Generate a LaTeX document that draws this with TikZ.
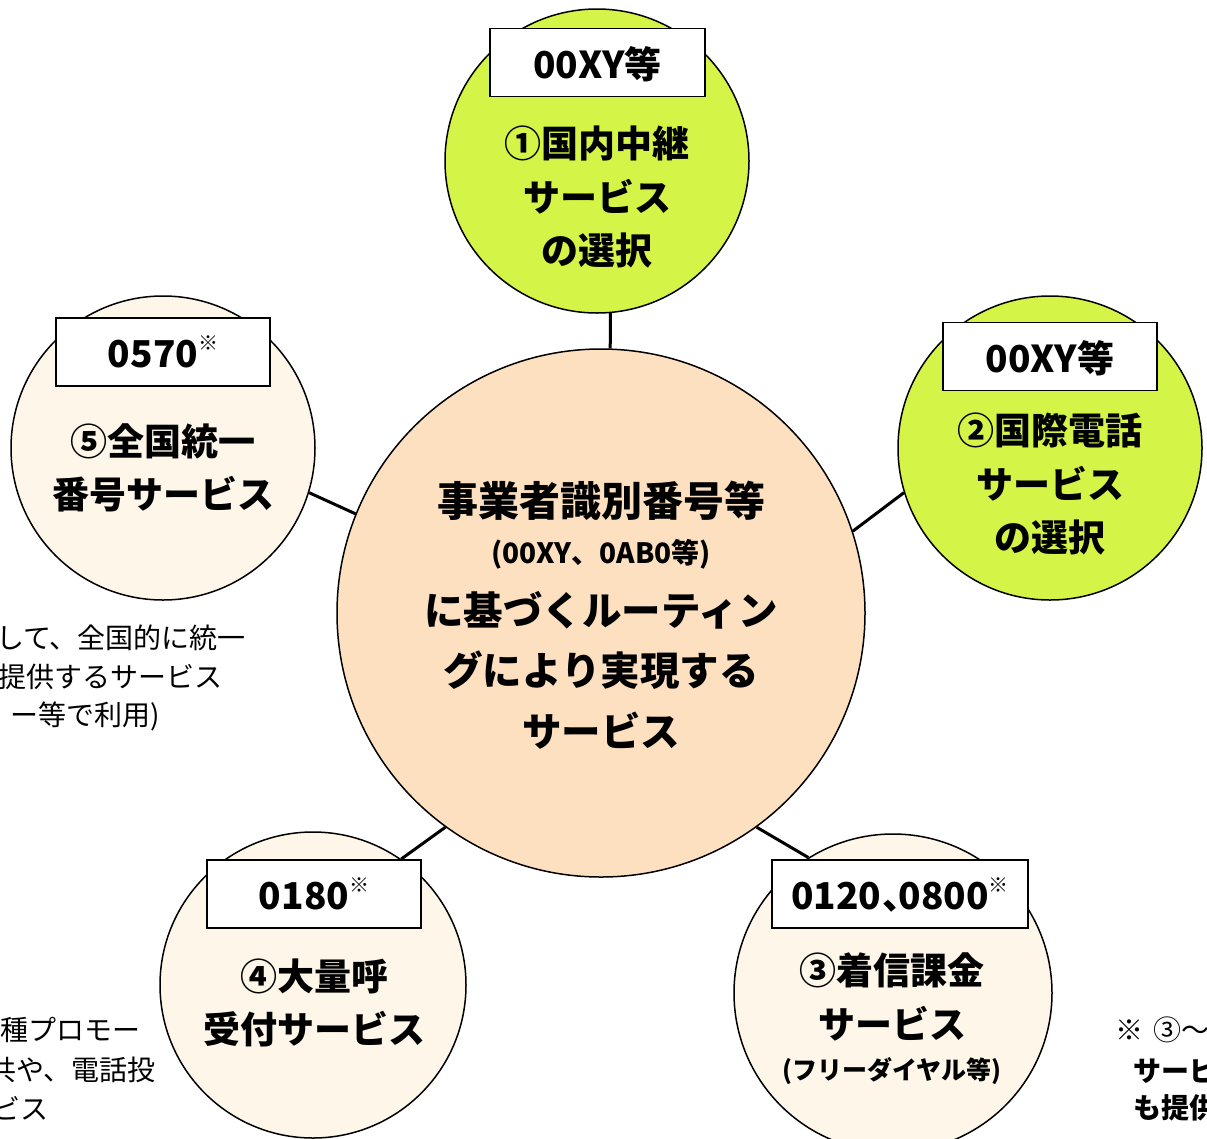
\documentclass[tikz,border=0pt]{standalone}
\usepackage{fontspec}
\newfontfamily\jp{Noto Sans CJK JP}
\definecolor{gA}{RGB}{212,245,72}
\definecolor{gB}{RGB}{190,222,45}
\definecolor{gC}{RGB}{100,120,20}
\definecolor{cA}{RGB}{253,246,233}
\definecolor{cB}{RGB}{232,218,196}
\definecolor{cC}{RGB}{120,105,88}
\definecolor{pA}{RGB}{253,224,192}
\definecolor{pB}{RGB}{250,230,205}
\definecolor{pC}{RGB}{175,135,100}
\pgfdeclareradialshading{greenball}{\pgfpoint{0bp}{0bp}}{color(0bp)=(gA); color(38bp)=(gA); color(45bp)=(gB); color(49bp)=(gC); color(50bp)=(gC)}
\pgfdeclareradialshading{creamball}{\pgfpoint{0bp}{0bp}}{color(0bp)=(cA); color(37bp)=(cA); color(45bp)=(cB); color(49bp)=(cC); color(50bp)=(cC)}
\pgfdeclareradialshading{peachball}{\pgfpoint{0bp}{0bp}}{color(0bp)=(pA); color(44bp)=(pA); color(47.5bp)=(pB); color(49.5bp)=(pC); color(50bp)=(pC)}
\tikzset{
  ball/.style={circle, draw=black, line width=1.5pt, inner sep=0pt, minimum size=#1},
  greenc/.style={ball=#1, shading=greenball},
  creamc/.style={ball=#1, shading=creamball},
  numbox/.style={draw=black, line width=1.3pt, fill=white, inner sep=0pt, minimum height=68pt},
  numtxt/.style={font=\jp\bfseries\fontsize{37}{40}\selectfont},
  circtxt/.style={font=\jp\bfseries\fontsize{37}{53.5}\selectfont, align=center, inner sep=0pt},
  conn/.style={draw=black, line width=3pt},
  frag/.style={font=\jp\fontsize{28}{39}\selectfont, inner sep=0pt},
  fragb/.style={font=\jp\bfseries\fontsize{28}{39}\selectfont, inner sep=0pt},
}
\newcommand{\kome}{\raisebox{0.45em}{\fontsize{20}{20}\selectfont ※}}
\begin{document}
\begin{tikzpicture}[x=1pt,y=-1pt]
\useasboundingbox (0,0) rectangle (1207,1138);
\clip (0,0) rectangle (1207,1138);
\fill[white] (0,0) rectangle (1207,1138);

% circles
\node[ball=528pt, shading=peachball] (c0) at (601,613) {};
\node[greenc=304pt] (c1) at (597,161) {};
\node[greenc=304pt] (c2) at (1050,448) {};
\node[creamc=304pt] (c5) at (163,448) {};
\node[creamc=306pt] (c4) at (313,985) {};
\node[creamc=318pt] (c3) at (893,993) {};

% connectors
\draw[conn] (c0.88.3) -- (c1.-85.5);
\draw[conn] (c0.18.6) -- (c2.197.2);
\draw[conn] (c0.158.1) -- (c5.-17.2);
\draw[conn] (c0.234) -- (c4.55.8);
\draw[conn] (c0.306.8) -- (c3.122);

% number boxes
\node[numbox, minimum width=215pt] (b1) at (597.5,62.5) {};
\node[numtxt] (n1) at (597.5,64) {00XY等};
\node[numbox, minimum width=214pt] (b2) at (1050,356.5) {};
\node[numtxt] (n2) at (1050,358) {00XY等};
\node[numbox, minimum width=214pt] (b5) at (163,352) {};
\node[numtxt] (n5) at (163,352) {0570\kome};
\node[numbox, minimum width=214pt] (b4) at (314,894) {};
\node[numtxt] (n4) at (314,894) {0180\kome};
\node[numbox, minimum width=256pt] (b3) at (900,894) {};
\node[numtxt] (n3) at (900,895) {0120\hspace{0.02em}、\hspace{-0.55em}0800\kome};

% circle texts
\node[circtxt] (t1) at (597,197) {①国内中継\\サービス\\の選択};
\node[circtxt] (t2) at (1050,484) {②国際電話\\サービス\\の選択};
\node[circtxt] (t5) at (163,468) {⑤全国統一\\番号サービス};
\node[circtxt] (t4) at (314,1003) {④大量呼\\受付サービス};
\node[circtxt] (t3) at (892,997) {③着信課金\\サービス};
\node[font=\jp\bfseries\fontsize{25}{30}\selectfont, inner sep=0pt] (t3b) at (892,1071) {(フリーダイヤル等)};

% center text
\node[font=\jp\bfseries\fontsize{41}{48}\selectfont, inner sep=0pt] (m1) at (601,501) {事業者識別番号等};
\node[font=\jp\bfseries\fontsize{28}{32}\selectfont, inner sep=0pt] (m2) at (601,554) {(00XY、0AB0等)};
\node[font=\jp\bfseries\fontsize{39.5}{60.5}\selectfont, align=center, inner sep=0pt] (m3) at (601,670) {に基づくルーティン\\グにより実現する\\サービス};

% cut-off side texts (cut by the picture's edge, as in the reference)
\node[frag, anchor=east] (f1) at (246,638) {して、全国的に統一};
\node[frag, anchor=east] (f2) at (223,677) {提供するサービス};
\node[frag, anchor=east] (f3) at (160,716) {ー等で利用)};
\node[frag, anchor=east] (g1) at (141,1030) {種プロモー};
\node[frag, anchor=east] (g2) at (156,1070) {共や、電話投};
\node[frag, anchor=east] (g3) at (49,1108) {ビス};
\node[frag, anchor=west] (h1) at (1115,1030) {※\hspace{10pt}③〜};
\node[fragb, anchor=west] (h2) at (1133,1070) {サービ};
\node[fragb, anchor=west] (h3) at (1133,1108) {も提供};
\end{tikzpicture}
\end{document}
